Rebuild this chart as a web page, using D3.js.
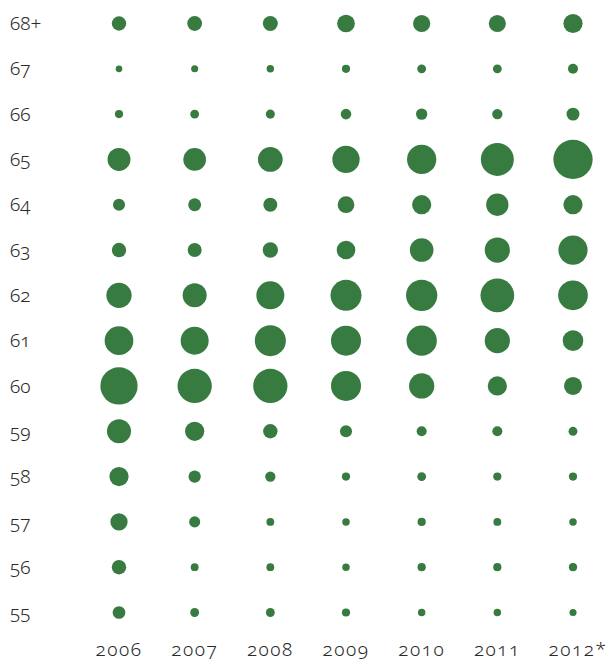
<!DOCTYPE html>
<html>
<head>
<meta charset="utf-8">
<script src="https://cdn.jsdelivr.net/npm/d3@7"></script>
<style>
  body { margin: 0; background: #fff; }
  .label { font-family: "Noto Sans", sans-serif; fill: #2a2a2a; font-weight: 300; font-variant-numeric: oldstyle-nums; font-feature-settings: "onum" 1; }
</style>
</head>
<body>
<div id="chart"></div>
<script>
// share of retirements (%) by age, per year
const years = ['2006', '2007', '2008', '2009', '2010', '2011', '2012*'];
const ages = ['68+', '67', '66', '65', '64', '63', '62', '61', '60', '59', '58', '57', '56', '55'];

const age68 = [3.7, 3.9, 4.0, 5.6, 5.3, 5.2, 6.6];
const age67 = [0.8, 0.9, 1.0, 1.2, 1.4, 1.4, 1.8];
const age66 = [1.2, 1.4, 1.5, 2.0, 2.3, 1.9, 3.0];
const age65 = [9.4, 9.2, 10.9, 13.3, 15.3, 19.4, 27.6];
const age64 = [2.6, 3.0, 3.5, 5.0, 6.6, 8.9, 6.6];
const age63 = [3.7, 3.5, 4.2, 6.2, 10.0, 11.4, 15.3];
const age62 = [11.4, 10.3, 14.0, 17.2, 17.5, 20.3, 15.8];
const age61 = [14.7, 14.0, 17.2, 16.1, 16.4, 11.4, 7.6];
const age60 = [24.8, 21.0, 21.0, 16.1, 11.4, 6.6, 5.8];
const age59 = [10.3, 6.6, 3.7, 2.6, 1.8, 1.8, 1.4];
const age58 = [6.6, 2.7, 1.9, 1.2, 1.4, 1.2, 1.2];
const age57 = [5.3, 2.2, 1.1, 1.0, 1.2, 1.1, 1.0];
const age56 = [3.7, 1.1, 1.1, 1.0, 1.2, 1.2, 1.2];
const age55 = [2.9, 1.4, 1.4, 1.2, 1.0, 1.0, 0.9];

const series = [age68, age67, age66, age65, age64, age63, age62, age61, age60, age59, age58, age57, age56, age55];

const cells = [];
ages.forEach((a, i) => {
  years.forEach((y, j) => {
    cells.push({age: a, year: y, value: series[i][j]});
  });
});

const width = 608, height = 664;

const svg = d3.select('#chart').append('svg')
    .attr('width', width)
    .attr('height', height);

const xScale = d3.scalePoint()
    .domain(years)
    .range([119, 573]);

const yScale = d3.scalePoint()
    .domain(ages)
    .range([23.5, 612.5]);

const rScale = d3.scaleSqrt()
    .domain([0, d3.max(cells, d => d.value)])
    .range([0, 19.65]);

svg.selectAll('circle')
    .data(cells)
    .join('circle')
    .attr('cx', d => xScale(d.year))
    .attr('cy', d => yScale(d.age))
    .attr('r', d => rScale(d.value))
    .attr('fill', '#377b41');

svg.selectAll('.row-label')
    .data(ages)
    .join('text')
    .attr('class', 'label row-label')
    .attr('x', 10)
    .attr('y', d => yScale(d))
    .attr('dy', '0.35em')
    .style('font-size', '19px')
    .text(d => d);

svg.selectAll('.col-label')
    .data(years)
    .join('text')
    .attr('class', 'label col-label')
    .attr('x', d => xScale(d) + (d.endsWith('*') ? 5 : 0))
    .attr('y', 656)
    .attr('text-anchor', 'middle')
    .style('font-size', '19px')
    .style('letter-spacing', '1.5px')
    .text(d => d);
</script>
</body>
</html>
